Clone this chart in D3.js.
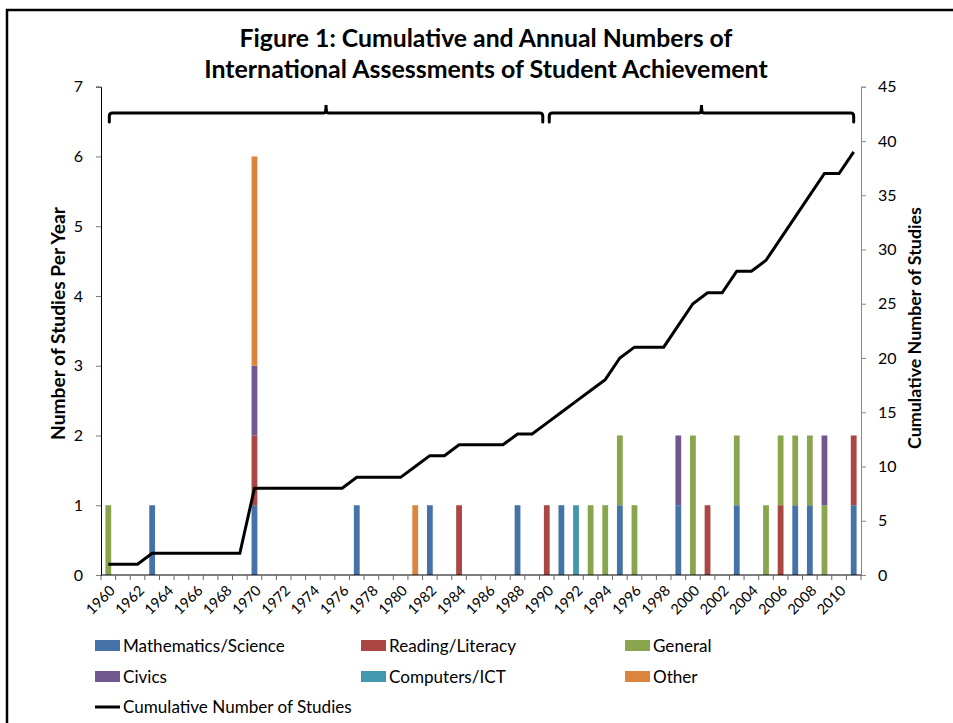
<!DOCTYPE html>
<html>
<head>
<meta charset="utf-8">
<script src="https://cdn.jsdelivr.net/npm/d3@7"></script>
<style>
  html, body { margin: 0; padding: 0; background: #fff; }
  svg { display: block; }
  text { font-family: Lato, "Open Sans", "DejaVu Sans", sans-serif; fill: #000; }
</style>
</head>
<body>
<svg id="chart" width="953" height="723"></svg>
<script>
// ---------------- DATA ----------------
const years = d3.range(1960, 2012);           // 1960 .. 2011 categories
const tickLabelYears = d3.range(1960, 2011, 2);
const seriesNames = ["Mathematics/Science", "Reading/Literacy", "General", "Civics", "Computers/ICT", "Other"];
const seriesColors = ["#4572A7", "#AA4643", "#89A54E", "#71588F", "#4198AF", "#DB843D"];

//                    1960                1965                1970                1975                1980                1985                1990                1995                2000                2005                2010
const mathScience  = [0, 0, 0, 1, 0,      0, 0, 0, 0, 0,      1, 0, 0, 0, 0,      0, 0, 1, 0, 0,      0, 0, 1, 0, 0,      0, 0, 0, 1, 0,      0, 1, 0, 0, 0,      1, 0, 0, 0, 1,      0, 0, 0, 1, 0,      0, 0, 1, 1, 0,      0, 1];
const readingLit   = [0, 0, 0, 0, 0,      0, 0, 0, 0, 0,      1, 0, 0, 0, 0,      0, 0, 0, 0, 0,      0, 0, 0, 0, 1,      0, 0, 0, 0, 0,      1, 0, 0, 0, 0,      0, 0, 0, 0, 0,      0, 1, 0, 0, 0,      0, 1, 0, 0, 0,      0, 1];
const general      = [1, 0, 0, 0, 0,      0, 0, 0, 0, 0,      0, 0, 0, 0, 0,      0, 0, 0, 0, 0,      0, 0, 0, 0, 0,      0, 0, 0, 0, 0,      0, 0, 0, 1, 1,      1, 1, 0, 0, 0,      2, 0, 0, 1, 0,      1, 1, 1, 1, 1,      0, 0];
const civics       = [0, 0, 0, 0, 0,      0, 0, 0, 0, 0,      1, 0, 0, 0, 0,      0, 0, 0, 0, 0,      0, 0, 0, 0, 0,      0, 0, 0, 0, 0,      0, 0, 0, 0, 0,      0, 0, 0, 0, 1,      0, 0, 0, 0, 0,      0, 0, 0, 0, 1,      0, 0];
const computersICT = [0, 0, 0, 0, 0,      0, 0, 0, 0, 0,      0, 0, 0, 0, 0,      0, 0, 0, 0, 0,      0, 0, 0, 0, 0,      0, 0, 0, 0, 0,      0, 0, 1, 0, 0,      0, 0, 0, 0, 0,      0, 0, 0, 0, 0,      0, 0, 0, 0, 0,      0, 0];
const other        = [0, 0, 0, 0, 0,      0, 0, 0, 0, 0,      3, 0, 0, 0, 0,      0, 0, 0, 0, 0,      0, 1, 0, 0, 0,      0, 0, 0, 0, 0,      0, 0, 0, 0, 0,      0, 0, 0, 0, 0,      0, 0, 0, 0, 0,      0, 0, 0, 0, 0,      0, 0];
const cumulative   = [1, 1, 1, 2, 2,      2, 2, 2, 2, 2,      8, 8, 8, 8, 8,      8, 8, 9, 9, 9,      9,10,11,11,12,     12,12,12,13,13,     14,15,16,17,18,     20,21,21,21,23,     25,26,26,28,28,     29,31,33,35,37,     37,39];

const leftTicks  = [0, 1, 2, 3, 4, 5, 6, 7];
const rightTicks = [0, 5, 10, 15, 20, 25, 30, 35, 40, 45];

const titleLines = ["Figure 1: Cumulative and Annual Numbers of", "International Assessments of Student Achievement"];
const leftAxisTitle = "Number of Studies Per Year";
const rightAxisTitle = "Cumulative Number of Studies";
const lineLegendLabel = "Cumulative Number of Studies";
// brace groupings (start year, end year)
const braces = [[1960, 1990], [1990, 2011]];

// ---------------- LAYOUT ----------------
const svg = d3.select("#chart");
const plot = { left: 101, right: 861, top: 86.7, bottom: 575 };

const x = d3.scaleBand().domain(years).range([plot.left, plot.right]).paddingInner(0.6).paddingOuter(0.3);
const xc = d3.scaleBand().domain(years).range([plot.left, plot.right]); // full-width band for ticks/line
const yL = d3.scaleLinear().domain([0, 7]).range([plot.bottom, plot.top]);
const yR = d3.scaleLinear().domain([0, 45]).range([plot.bottom, plot.top]);

function fitWidth(sel, target) {
  const node = sel.node();
  const fs = parseFloat(sel.attr("font-size"));
  const w = node.getComputedTextLength();
  if (w > 0) sel.attr("font-size", fs * target / w);
  return sel;
}

// Border frame
svg.append("rect").attr("x", 7).attr("y", 10).attr("width", 980).attr("height", 740)
  .attr("fill", "none").attr("stroke", "#000").attr("stroke-width", 2.5);

// Title
const titleTargets = [{ y: 47, w: 493 }, { y: 78, w: 564 }];
titleLines.forEach((t, i) => {
  const s = svg.append("text").attr("x", 486).attr("y", titleTargets[i].y)
    .attr("text-anchor", "middle").attr("font-weight", "bold").attr("font-size", 22).text(t);
  fitWidth(s, titleTargets[i].w);
});

// Stacked bars
const table = years.map((yr, i) => ({
  year: yr,
  "Mathematics/Science": mathScience[i],
  "Reading/Literacy": readingLit[i],
  "General": general[i],
  "Civics": civics[i],
  "Computers/ICT": computersICT[i],
  "Other": other[i]
}));
const stack = d3.stack().keys(seriesNames)(table);
const color = d3.scaleOrdinal().domain(seriesNames).range(seriesColors);

const barW = 5.8;
svg.append("g").selectAll("g").data(stack).join("g")
  .attr("fill", d => color(d.key))
  .selectAll("rect").data(d => d.filter(s => s[1] - s[0] > 0)).join("rect")
  .attr("x", d => xc(d.data.year) + xc.bandwidth() / 2 - barW / 2)
  .attr("width", barW)
  .attr("y", d => yL(d[1]))
  .attr("height", d => yL(d[0]) - yL(d[1]));

// Left axis
const gL = svg.append("g").attr("transform", `translate(${plot.left},0)`)
  .call(d3.axisLeft(yL).tickValues(leftTicks).tickSize(5).tickPadding(13).tickFormat(d3.format("d")));
gL.select(".domain").attr("stroke", "#000").attr("stroke-width", 1);
gL.selectAll(".tick line").attr("stroke", "#777");
gL.selectAll(".tick text").attr("font-size", 16).attr("font-family", "Lato, sans-serif").attr("fill", "#000");

// Right axis
const gR = svg.append("g").attr("transform", `translate(${plot.right},0)`)
  .call(d3.axisRight(yR).tickValues(rightTicks).tickSize(5).tickPadding(12).tickFormat(d3.format("d")));
gR.select(".domain").attr("stroke", "#888").attr("stroke-width", 1);
gR.selectAll(".tick line").attr("stroke", "#888");
gR.selectAll(".tick text").attr("font-size", 16).attr("font-family", "Lato, sans-serif").attr("fill", "#000");

// X axis: ticks at category boundaries
const gX = svg.append("g").attr("transform", `translate(0,${plot.bottom})`);
gX.append("line").attr("x1", plot.left).attr("x2", plot.right).attr("stroke", "#000").attr("stroke-width", 1.2);
const boundaries = years.map(yr => xc(yr)).concat([plot.right]);
gX.selectAll("line.tk").data(boundaries).join("line").attr("class", "tk")
  .attr("x1", d => d).attr("x2", d => d).attr("y1", 0).attr("y2", 5).attr("stroke", "#666");
gX.selectAll("text").data(tickLabelYears).join("text")
  .attr("transform", d => `translate(${xc(d) + xc.bandwidth() / 2 + 4},${13}) rotate(-45)`)
  .attr("text-anchor", "end").attr("font-size", 14.5).attr("dy", "0.35em").text(d => d);

// Cumulative line
const line = d3.line().x((d, i) => xc(years[i]) + xc.bandwidth() / 2).y(d => yR(d));
svg.append("path").datum(cumulative).attr("d", line)
  .attr("fill", "none").attr("stroke", "#000").attr("stroke-width", 3).attr("stroke-linejoin", "miter");

// Braces
const braceY = 113;
braces.forEach(([a, b], i) => {
  const x0 = xc(a) + xc.bandwidth() / 2 + (i === 0 ? 1 : 2.5);
  const x1 = xc(b) + xc.bandwidth() / 2 - (i === 0 ? 4 : 0);
  const xm = (x0 + x1) / 2;
  const r = 3;
  const p = `M${x0},${braceY + 9} L${x0},${braceY + r} Q${x0},${braceY} ${x0 + r},${braceY}
             L${xm - 2},${braceY} Q${xm},${braceY} ${xm},${braceY - 8} Q${xm},${braceY} ${xm + 2},${braceY}
             L${x1 - r},${braceY} Q${x1},${braceY} ${x1},${braceY + r} L${x1},${braceY + 9}`;
  svg.append("path").attr("d", p).attr("fill", "none").attr("stroke", "#000").attr("stroke-width", 3)
    .attr("stroke-linecap", "round");
});

// Axis titles
const lt = svg.append("text").attr("transform", `translate(65,323.5) rotate(-90)`)
  .attr("text-anchor", "middle").attr("font-weight", "bold").attr("font-size", 15).text(leftAxisTitle);
fitWidth(lt, 233);
const rt = svg.append("text").attr("transform", `translate(908,328) rotate(-90)`)
  .attr("text-anchor", "middle").attr("font-weight", "bold").attr("font-size", 15).attr("dy", "0.7em").text(rightAxisTitle);
fitWidth(rt, 242);

// Legend
const legCols = [95, 361, 625];
const legRows = [646, 677, 707];
const leg = svg.append("g");
seriesNames.forEach((name, i) => {
  const cx = legCols[i % 3], cy = legRows[Math.floor(i / 3)];
  leg.append("rect").attr("x", cx).attr("y", cy - 6).attr("width", 25).attr("height", 11).attr("fill", color(name));
  const t = leg.append("text").attr("x", cx + 28).attr("y", cy).attr("dy", "0.35em").attr("font-size", 16).text(name);
  if (i === 0) fitWidth(t, 162);
});
const mathFs = leg.select("text").attr("font-size");
leg.selectAll("text").attr("font-size", mathFs);
leg.append("line").attr("x1", 95).attr("x2", 120).attr("y1", legRows[2]).attr("y2", legRows[2])
  .attr("stroke", "#000").attr("stroke-width", 3);
leg.append("text").attr("x", 123).attr("y", legRows[2]).attr("dy", "0.35em").attr("font-size", mathFs).text(lineLegendLabel);
</script>
</body>
</html>
